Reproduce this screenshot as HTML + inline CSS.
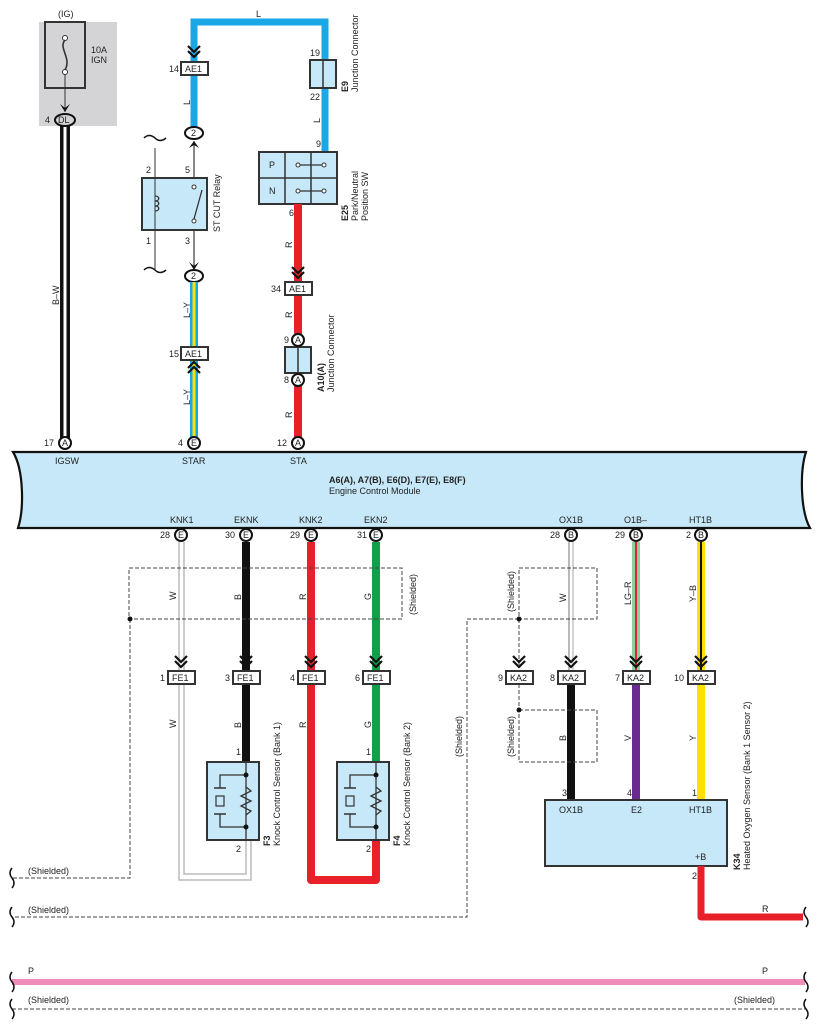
<!DOCTYPE html>
<html><head><meta charset="utf-8"><style>
html,body{margin:0;padding:0;background:#fff}
svg{display:block}
text{font-family:"Liberation Sans",sans-serif;font-size:9px;fill:#222}
.b{font-weight:bold}
</style></head><body>
<svg width="818" height="1031" viewBox="0 0 818 1031" xmlns="http://www.w3.org/2000/svg">
<defs>
<g id="dchev"><path d="M-6,-12 L0,-6 L6,-12 M-6,-7 L0,-1 L6,-7" fill="none" stroke="#111" stroke-width="2.2"/></g>
<g id="uchev"><path d="M-6,12 L0,6 L6,12 M-6,7 L0,1 L6,7" fill="none" stroke="#111" stroke-width="2.2"/></g>
</defs>

<!-- fuse area -->
<rect x="39" y="22" width="78" height="104" fill="#d4d4d6"/>
<rect x="45" y="22" width="40" height="66" fill="none" stroke="#333" stroke-width="2"/>
<circle cx="65" cy="38" r="2.5" fill="#fff" stroke="#333"/>
<circle cx="65" cy="72" r="2.5" fill="#fff" stroke="#333"/>
<path d="M65,40 C58,48 72,58 65,70" fill="none" stroke="#333" stroke-width="1.6"/>
<line x1="65" y1="74" x2="65" y2="112" stroke="#333" stroke-width="1"/>
<path d="M60,104 L65,112 L70,104 L65,108Z" fill="#111"/>
<text x="58" y="17">(IG)</text>
<text x="91" y="53">10A</text><text x="91" y="63">IGN</text>
<!-- B-W wire -->
<rect x="60" y="126" width="10" height="317" fill="#111"/>
<rect x="63.5" y="126" width="3" height="317" fill="#fff"/>
<ellipse cx="65" cy="120" rx="10" ry="6" fill="#d4d4d6" stroke="#111" stroke-width="2"/>
<text x="58" y="123">DL</text><text x="45" y="123">4</text>
<text transform="translate(59,305) rotate(-90)">B–W</text>

<!-- blue L wire -->
<path d="M194,131 V22 H325 V152" fill="none" stroke="#1aa7e6" stroke-width="7"/>
<text x="256" y="17">L</text>
<rect x="310" y="60" width="26" height="28" fill="#c6e8f8" stroke="#333" stroke-width="2"/>
<line x1="323" y1="60" x2="323" y2="88" stroke="#333" stroke-width="1.5"/>
<text x="310" y="56">19</text><text x="310" y="100">22</text>
<text class="b" transform="translate(348,92) rotate(-90)">E9</text>
<text transform="translate(358,92) rotate(-90)">Junction Connector</text>
<text transform="translate(320,123) rotate(-90)">L</text>
<text transform="translate(190,105) rotate(-90)">L</text>
<text x="316" y="147">9</text>
<use href="#dchev" x="194" y="58"/>
<rect x="181" y="62" width="27" height="13" fill="#fff" stroke="#333" stroke-width="2"/>
<text x="185" y="72">AE1</text><text x="169" y="72">14</text>

<!-- ST cut relay column -->
<ellipse cx="194" cy="133" rx="9" ry="6" fill="#fff" stroke="#111" stroke-width="2"/>
<text x="191" y="136">2</text>
<path d="M189,148 L194,141 L199,148 L194,145Z" fill="#111"/>
<line x1="194" y1="141" x2="194" y2="268" stroke="#111" stroke-width="1"/>
<path d="M189,262 L194,270 L199,262 L194,266Z" fill="#111"/>
<rect x="142" y="178" width="65" height="52" fill="#c6e8f8" stroke="#333" stroke-width="2"/>
<line x1="155" y1="148" x2="155" y2="270" stroke="#333" stroke-width="1"/>
<path d="M144,138 q5,-5 11,0 q5,5 11,0 M144,270 q5,-5 11,0 q5,5 11,0" fill="none" stroke="#111" stroke-width="1.5"/>
<path d="M155,196 c5,0 5,5 0,5 c5,0 5,5 0,5 c5,0 5,5 0,5" fill="none" stroke="#333" stroke-width="1.3"/>
<circle cx="194" cy="187" r="2" fill="#fff" stroke="#333"/>
<circle cx="194" cy="221" r="2" fill="#fff" stroke="#333"/>
<line x1="194" y1="219" x2="202" y2="190" stroke="#333" stroke-width="1.3"/>
<text x="146" y="173">2</text><text x="185" y="173">5</text>
<text x="146" y="244">1</text><text x="185" y="244">3</text>
<text transform="translate(220,232) rotate(-90)">ST CUT Relay</text>
<ellipse cx="194" cy="276" rx="9" ry="6" fill="#fff" stroke="#111" stroke-width="2"/>
<text x="191" y="279">2</text>
<!-- L-Y -->
<rect x="190" y="282" width="8" height="155" fill="#1aa7e6"/>
<rect x="192.5" y="282" width="3" height="155" fill="#ffe000"/>
<text transform="translate(190,318) rotate(-90)">L–Y</text>
<text transform="translate(190,405) rotate(-90)">L–Y</text>
<rect x="181" y="347" width="27" height="13" fill="#fff" stroke="#333" stroke-width="2"/>
<text x="185" y="357">AE1</text><text x="169" y="357">15</text>
<use href="#uchev" x="194" y="361"/>

<!-- E25 -->
<rect x="259" y="152" width="78" height="52" fill="#c6e8f8" stroke="#333" stroke-width="2"/>
<path d="M285,152V204M311,152V204M259,178H337" stroke="#333" stroke-width="1.5"/>
<text x="269" y="168">P</text><text x="269" y="194">N</text>
<path d="M298,165H324M298,191H324" stroke="#333" stroke-width="1.2"/>
<circle cx="298" cy="165" r="2" fill="#fff" stroke="#333"/><circle cx="324" cy="165" r="2" fill="#fff" stroke="#333"/>
<circle cx="298" cy="191" r="2" fill="#fff" stroke="#333"/><circle cx="324" cy="191" r="2" fill="#fff" stroke="#333"/>
<text class="b" transform="translate(348,221) rotate(-90)">E25</text>
<text transform="translate(358,221) rotate(-90)">Park/Neutral</text>
<text transform="translate(368,221) rotate(-90)">Position SW</text>
<text x="289" y="216">6</text>
<!-- red STA -->
<rect x="294" y="204" width="8" height="233" fill="#e8202a"/>
<text transform="translate(292,248) rotate(-90)">R</text>
<text transform="translate(292,318) rotate(-90)">R</text>
<text transform="translate(292,418) rotate(-90)">R</text>
<use href="#dchev" x="298" y="279"/>
<rect x="285" y="282" width="27" height="13" fill="#fff" stroke="#333" stroke-width="2"/>
<text x="289" y="292">AE1</text><text x="271" y="292">34</text>
<rect x="285" y="347" width="26" height="26" fill="#c6e8f8" stroke="#333" stroke-width="2"/>
<line x1="298" y1="347" x2="298" y2="373" stroke="#333" stroke-width="1.5"/>
<circle cx="298" cy="340" r="6" fill="#fff" stroke="#111" stroke-width="2"/><text x="295" y="343">A</text><text x="284" y="343">9</text>
<circle cx="298" cy="380" r="6" fill="#fff" stroke="#111" stroke-width="2"/><text x="295" y="383">A</text><text x="284" y="383">8</text>
<text class="b" transform="translate(324,392) rotate(-90)">A10(A)</text>
<text transform="translate(334,392) rotate(-90)">Junction Connector</text>

<!-- ECM -->
<path d="M13,452 H806 C800,470 800,510 810,528 H18 C24,510 24,470 13,452Z" fill="#c6e8f8" stroke="#111" stroke-width="2.2"/>
<circle cx="65" cy="443" r="6" fill="#fff" stroke="#111" stroke-width="2"/><text x="62" y="446">A</text><text x="44" y="446">17</text>
<circle cx="194" cy="443" r="6" fill="#fff" stroke="#111" stroke-width="2"/><text x="191" y="446">E</text><text x="178" y="446">4</text>
<circle cx="298" cy="443" r="6" fill="#fff" stroke="#111" stroke-width="2"/><text x="295" y="446">A</text><text x="277" y="446">12</text>
<text x="55" y="464">IGSW</text><text x="182" y="464">STAR</text><text x="290" y="464">STA</text>
<text class="b" x="329" y="483">A6(A), A7(B), E6(D), E7(E), E8(F)</text>
<text x="329" y="494">Engine Control Module</text>
<text x="170" y="523">KNK1</text><text x="234" y="523">EKNK</text><text x="299" y="523">KNK2</text><text x="364" y="523">EKN2</text>
<text x="559" y="523">OX1B</text><text x="624" y="523">O1B–</text><text x="689" y="523">HT1B</text>

<!-- knock wires -->
<path d="M179,542 V880 H251 V840" fill="none" stroke="#bbb" stroke-width="1.5"/>
<path d="M184,542 V874 H246 V840" fill="none" stroke="#bbb" stroke-width="1.5"/>
<rect x="242" y="542" width="8" height="220" fill="#111"/>
<path d="M311,542 V880 H376 V840" fill="none" stroke="#e8202a" stroke-width="8" stroke-linejoin="round"/>
<rect x="372" y="542" width="8" height="220" fill="#11a04a"/>
<g>
<circle cx="181" cy="535" r="6" fill="#fff" stroke="#111" stroke-width="2"/><text x="178" y="538">E</text><text x="160" y="538">28</text>
<circle cx="246" cy="535" r="6" fill="#fff" stroke="#111" stroke-width="2"/><text x="243" y="538">E</text><text x="225" y="538">30</text>
<circle cx="311" cy="535" r="6" fill="#fff" stroke="#111" stroke-width="2"/><text x="308" y="538">E</text><text x="290" y="538">29</text>
<circle cx="376" cy="535" r="6" fill="#fff" stroke="#111" stroke-width="2"/><text x="373" y="538">E</text><text x="357" y="538">31</text>
</g>
<rect x="129" y="568" width="273" height="51" fill="none" stroke="#444" stroke-width="1" stroke-dasharray="4,2"/>
<path d="M130,619 V878 H12" fill="none" stroke="#444" stroke-width="1" stroke-dasharray="4,2"/>
<circle cx="130" cy="619" r="2.5" fill="#111"/>
<text transform="translate(416,615) rotate(-90)">(Shielded)</text>
<text transform="translate(176,600) rotate(-90)">W</text><text transform="translate(241,600) rotate(-90)">B</text>
<text transform="translate(306,600) rotate(-90)">R</text><text transform="translate(371,600) rotate(-90)">G</text>
<text transform="translate(176,728) rotate(-90)">W</text><text transform="translate(241,728) rotate(-90)">B</text>
<text transform="translate(306,728) rotate(-90)">R</text><text transform="translate(371,728) rotate(-90)">G</text>
<g>
<use href="#dchev" x="181" y="668"/><use href="#dchev" x="246" y="668"/><use href="#dchev" x="311" y="668"/><use href="#dchev" x="376" y="668"/>
<rect x="168" y="671" width="27" height="13" fill="#fff" stroke="#333" stroke-width="2"/><text x="172" y="681">FE1</text><text x="160" y="681">1</text>
<rect x="233" y="671" width="27" height="13" fill="#fff" stroke="#333" stroke-width="2"/><text x="237" y="681">FE1</text><text x="225" y="681">3</text>
<rect x="298" y="671" width="27" height="13" fill="#fff" stroke="#333" stroke-width="2"/><text x="302" y="681">FE1</text><text x="290" y="681">4</text>
<rect x="363" y="671" width="27" height="13" fill="#fff" stroke="#333" stroke-width="2"/><text x="367" y="681">FE1</text><text x="355" y="681">6</text>
</g>
<!-- sensors -->
<g id="ks">
<rect x="207" y="762" width="52" height="78" fill="#c6e8f8" stroke="#333" stroke-width="2"/>
<path d="M246,762V840 M246,775H220V788 M220,814V827H246" fill="none" stroke="#333" stroke-width="1.3"/>
<path d="M214,788H226 M214,814H226" stroke="#333" stroke-width="1.5"/>
<rect x="216" y="796" width="8" height="10" fill="none" stroke="#333" stroke-width="1.2"/>
<path d="M246,787 l5,4 -10,5 10,5 -10,5 10,5 -5,4" fill="none" stroke="#333" stroke-width="1.3"/>
<circle cx="246" cy="775" r="2.5" fill="#111"/><circle cx="246" cy="827" r="2.5" fill="#111"/>
</g>
<use href="#ks" x="130" y="0"/>
<text x="236" y="755">1</text><text x="236" y="852">2</text><text x="366" y="755">1</text><text x="366" y="852">2</text>
<text class="b" transform="translate(270,846) rotate(-90)">F3</text>
<text transform="translate(280,846) rotate(-90)">Knock Control Sensor (Bank 1)</text>
<text class="b" transform="translate(400,846) rotate(-90)">F4</text>
<text transform="translate(410,846) rotate(-90)">Knock Control Sensor (Bank 2)</text>

<!-- oxygen sensor -->
<path d="M569,542 V671 M573,542 V671" stroke="#bbb" stroke-width="1.3"/>
<line x1="569" y1="542" x2="569" y2="671" stroke="#888" stroke-width="1"/>
<rect x="632" y="542" width="8" height="129" fill="#8ccfa0"/><rect x="635" y="542" width="2" height="129" fill="#e8202a"/>
<rect x="697" y="542" width="8" height="129" fill="#ffe000"/><rect x="700" y="542" width="2" height="129" fill="#111"/>
<rect x="567" y="684" width="8" height="116" fill="#111"/>
<rect x="632" y="684" width="8" height="116" fill="#6a2a90"/>
<rect x="697" y="684" width="8" height="116" fill="#ffe000"/>
<g>
<circle cx="571" cy="535" r="6" fill="#fff" stroke="#111" stroke-width="2"/><text x="568" y="538">B</text><text x="550" y="538">28</text>
<circle cx="636" cy="535" r="6" fill="#fff" stroke="#111" stroke-width="2"/><text x="633" y="538">B</text><text x="615" y="538">29</text>
<circle cx="701" cy="535" r="6" fill="#fff" stroke="#111" stroke-width="2"/><text x="698" y="538">B</text><text x="686" y="538">2</text>
</g>
<rect x="519" y="568" width="78" height="51" fill="none" stroke="#444" stroke-width="1" stroke-dasharray="4,2"/>
<rect x="519" y="710" width="78" height="52" fill="none" stroke="#444" stroke-width="1" stroke-dasharray="4,2"/>
<path d="M519,619 H467 V917 H12 M519,619 V668 M519,684 V710" fill="none" stroke="#444" stroke-width="1" stroke-dasharray="4,2"/>
<circle cx="519" cy="619" r="2.5" fill="#111"/><circle cx="519" cy="710" r="2.5" fill="#111"/>
<text transform="translate(514,612) rotate(-90)">(Shielded)</text>
<text transform="translate(514,757) rotate(-90)">(Shielded)</text>
<text transform="translate(462,757) rotate(-90)">(Shielded)</text>
<text transform="translate(566,602) rotate(-90)">W</text>
<text transform="translate(631,605) rotate(-90)">LG–R</text>
<text transform="translate(696,602) rotate(-90)">Y–B</text>
<text transform="translate(566,741) rotate(-90)">B</text>
<text transform="translate(631,741) rotate(-90)">V</text>
<text transform="translate(696,741) rotate(-90)">Y</text>
<g>
<use href="#dchev" x="519" y="668"/><use href="#dchev" x="571" y="668"/><use href="#dchev" x="636" y="668"/><use href="#dchev" x="701" y="668"/>
<rect x="506" y="671" width="27" height="13" fill="#fff" stroke="#333" stroke-width="2"/><text x="510" y="681">KA2</text><text x="498" y="681">9</text>
<rect x="558" y="671" width="27" height="13" fill="#fff" stroke="#333" stroke-width="2"/><text x="562" y="681">KA2</text><text x="550" y="681">8</text>
<rect x="623" y="671" width="27" height="13" fill="#fff" stroke="#333" stroke-width="2"/><text x="627" y="681">KA2</text><text x="615" y="681">7</text>
<rect x="688" y="671" width="27" height="13" fill="#fff" stroke="#333" stroke-width="2"/><text x="692" y="681">KA2</text><text x="674" y="681">10</text>
</g>
<rect x="545" y="800" width="182" height="66" fill="#c6e8f8" stroke="#333" stroke-width="2"/>
<text x="562" y="796">3</text><text x="627" y="796">4</text><text x="692" y="796">1</text>
<text x="559" y="813">OX1B</text><text x="631" y="813">E2</text><text x="689" y="813">HT1B</text>
<text x="695" y="860">+B</text><text x="692" y="879">2</text>
<text class="b" transform="translate(740,870) rotate(-90)">K34</text>
<text transform="translate(750,870) rotate(-90)">Heated Oxygen Sensor (Bank 1 Sensor 2)</text>
<path d="M701,866 V917 H803" fill="none" stroke="#e8202a" stroke-width="7" stroke-linejoin="round"/>
<text x="762" y="912">R</text>

<!-- bottom lines -->
<rect x="12" y="979" width="793" height="6" fill="#f08cb8"/>
<path d="M12,1009 H805" stroke="#444" stroke-width="1" stroke-dasharray="4,2"/>
<text x="28" y="974">P</text><text x="762" y="974">P</text>
<text x="28" y="1003">(Shielded)</text><text x="734" y="1003">(Shielded)</text>
<text x="28" y="874">(Shielded)</text><text x="28" y="913">(Shielded)</text>
<g fill="none" stroke="#111" stroke-width="1.5">
<path d="M12,868 q-4,5 0,10 q4,5 0,10"/>
<path d="M12,907 q-4,5 0,10 q4,5 0,10"/>
<path d="M12,972 q-4,5 0,10 q4,5 0,10"/>
<path d="M12,999 q-4,5 0,10 q4,5 0,10"/>
<path d="M806,907 q-4,5 0,10 q4,5 0,10"/>
<path d="M806,972 q-4,5 0,10 q4,5 0,10"/>
<path d="M806,999 q-4,5 0,10 q4,5 0,10"/>
</g>
</svg>
</body></html>
